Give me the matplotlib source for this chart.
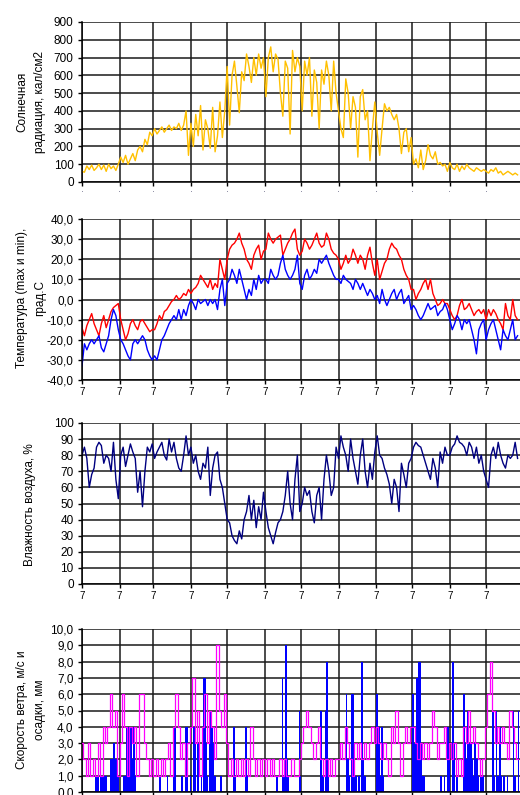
import numpy as np
import matplotlib
matplotlib.use("Agg")
from matplotlib import pyplot as plt
from matplotlib.ticker import FuncFormatter

plt.rcParams['font.family'] = ['Liberation Sans', 'DejaVu Sans']

# month boundaries (day of year)
month_start = [0, 31, 59, 90, 120, 151, 181, 212, 243, 273, 304, 334]

# values every 2 days, Jan..Dec
solar = [60, 55, 90, 70, 95, 65, 80, 100, 70, 95, 60, 100, 75, 90, 65, 100,
         140, 110, 150, 100, 130, 160, 120, 180, 200, 170, 240, 210, 280, 260,
         300, 270, 290, 310, 280, 300, 320, 290, 310, 300, 330, 290, 320, 400, 150,
         330, 200, 380, 260, 430, 180, 350, 300, 190, 420, 170, 260, 450, 250, 400,
         650, 320, 600, 680, 540, 390, 620, 570, 720, 650, 560, 700, 600, 720, 640, 700,
         480, 700, 760, 620, 720, 690, 500, 370, 680, 640, 270, 740, 620, 700, 650,
         400, 680, 600, 700, 370, 630, 560, 300, 630, 550, 680, 600, 400, 680, 500,
         400, 300, 250, 580, 500, 300, 480, 420, 140, 480, 520, 350, 400, 120, 300, 450,
         280, 150, 300, 440, 400, 420, 380, 350, 380, 300, 160, 280, 300, 170, 250,
         100, 130, 80, 180, 70, 120, 210, 150, 130, 170, 100, 110, 90, 100, 60,
         110, 80, 70, 100, 60, 90, 70, 100, 80, 70, 60, 80, 70, 60, 70,
         60, 50, 70, 60, 80, 50, 60, 40, 50, 60, 50, 40, 50, 40]

t_max = [-14, -18, -13, -10, -7, -12, -15, -18, -12, -8, -14, -10, -6, -4, -3, -2,
         -10, -15, -20, -17, -12, -10, -13, -15, -11, -10, -12, -14, -16, -15,
         -15, -12, -8, -10, -6, -5, -3, -1, 0, 2, 0, 1, 3, 2, 5,
         3, 5, 6, 8, 12, 10, 8, 6, 10, 5, 8, 6, 20, 15, 10,
         20, 25, 27, 28, 30, 33, 28, 25, 20, 18, 15, 22, 25, 27, 20, 24,
         25, 33, 30, 28, 30, 31, 32, 22, 25, 28, 30, 33, 35, 25, 22,
         24, 30, 28, 25, 27, 30, 33, 28, 26, 27, 33, 30, 25, 23, 22,
         20, 15, 18, 22, 18, 20, 25, 22, 18, 22, 20, 15, 22, 26, 18, 12,
         20, 10, 14, 18, 20, 25, 28, 26, 25, 22, 20, 15, 12, 10, 5,
         5, 0, 3, 5, 8, 10, 5, 10, 3, 0, -3, -2, 0, -2, -2,
         -5, -8, -10, -8, -3, 0, -5, -4, -2, -5, -8, -6, -5, -7, -5,
         -10, -5, -8, -5, -7, -10, -12, -15, -2, -8, -10, 0, -8, -10]

t_min = [-33, -22, -25, -22, -20, -22, -20, -18, -24, -26, -22, -18, -10, -5, -8, -15,
         -20, -22, -25, -28, -30, -22, -20, -22, -20, -18, -20, -25, -28, -30,
         -28, -30, -25, -20, -18, -15, -12, -10, -8, -10, -5, -10, -5, -8, -3,
         0, -2, -5, 0, -2, -1, 0, -3, 0, -2, 0, -5, 5, 10, -3,
         8, 10, 15, 12, 8, 15, 10, 5, 0, 5, 2, 10, 5, 12, 8, 10,
         10, 8, 15, 12, 10, 12, 18, 22, 15, 12, 10, 12, 15, 22, 8,
         5, 12, 15, 10, 12, 15, 13, 20, 18, 20, 22, 18, 15, 12, 10,
         10, 8, 12, 10, 9, 8, 5, 10, 8, 5, 8, 5, 2, 5, 3, 0,
         2, -2, 5, 0, -3, 0, 3, 5, 0, 3, 5, -2, 0, 2, -5,
         -3, -5, -8, -10, -8, -5, -2, -5, -4, -3, -8, -6, -5, -2, -5,
         -10, -15, -12, -8, -10, -15, -10, -12, -10, -15, -20, -27, -15, -12, -10,
         -20, -15, -12, -10, -15, -20, -25, -15, -18, -20, -15, -10, -20, -18]

humidity = [80, 85, 78, 60, 68, 72, 85, 88, 86, 75, 80, 78, 70, 88, 65, 53,
            80, 85, 73, 80, 87, 82, 78, 57, 70, 48, 70, 85, 82, 87,
            78, 82, 85, 88, 80, 77, 90, 82, 88, 78, 72, 70, 80, 92, 80,
            85, 75, 80, 70, 65, 75, 72, 85, 55, 72, 80, 82, 65, 60, 50,
            40, 38, 30, 27, 25, 33, 28, 40, 45, 55, 40, 52, 35, 48, 40, 57,
            45, 35, 30, 25, 32, 38, 40, 45, 55, 70, 50, 40, 65, 80, 45,
            50, 60, 55, 58, 45, 38, 55, 60, 40, 65, 80, 70, 55, 60, 85,
            78, 92, 85, 80, 70, 90, 78, 70, 62, 80, 90, 70, 60, 75, 65, 82,
            92, 80, 78, 72, 68, 62, 50, 65, 60, 45, 75, 68, 60, 75, 78,
            85, 88, 86, 85, 80, 75, 70, 65, 78, 72, 60, 82, 75, 85, 80,
            80, 85, 87, 92, 88, 87, 85, 80, 88, 85, 78, 85, 75, 80, 70,
            65, 60, 80, 85, 78, 88, 80, 75, 72, 80, 78, 80, 88, 78]

wind = [3, 2, 1, 3, 1, 2, 1, 3, 1, 4, 3, 4, 6, 4, 5, 1,
        3, 6, 4, 1, 4, 3, 4, 1, 6, 6, 3, 2, 1, 2,
        1, 2, 1, 2, 1, 2, 3, 1, 4, 6, 4, 2, 3, 1, 3,
        4, 7, 3, 5, 1, 4, 6, 3, 5, 4, 2, 9, 5, 4, 6,
        3, 1, 2, 1, 2, 1, 2, 1, 2, 1, 4, 2, 1, 2, 1, 2,
        1, 2, 1, 2, 1, 1, 2, 1, 2, 1, 1, 2, 1, 1, 2,
        3, 4, 5, 4, 3, 2, 3, 4, 2, 1, 2, 1, 2, 1, 2,
        2, 3, 2, 4, 3, 2, 1, 3, 2, 3, 2, 3, 2, 3, 4, 3,
        4, 3, 2, 3, 2, 1, 4, 3, 5, 3, 1, 3, 4, 3, 4,
        4, 3, 2, 3, 2, 3, 2, 3, 5, 4, 2, 3, 3, 4, 2,
        3, 2, 3, 1, 2, 1, 4, 3, 5, 3, 4, 3, 2, 1, 2,
        4, 6, 8, 5, 3, 4, 3, 4, 3, 2, 5, 4, 3, 2]

# daily precipitation, only rainy days
precip_day = [11, 12, 13, 15, 16, 17, 18, 19,
              23, 24, 25, 26, 27, 28, 29,
              34, 35, 36, 37, 38, 39, 40, 41, 42, 43,
              64, 70, 75, 76, 82, 85, 86, 89,
              92, 93, 95, 98, 100, 101, 102, 103, 105, 106, 107, 108, 109, 114,
              125, 126, 135, 136,
              160, 161, 165, 166, 168, 169, 170, 179, 180,
              197, 198, 199, 201, 202, 203,
              218, 219, 220, 222, 223, 224, 226, 228, 231, 232, 233,
              243, 244, 245, 246, 247, 248,
              273, 274, 275, 276, 277, 278, 279, 280, 281, 282,
              296, 299, 302, 303, 306, 307, 309,
              315, 316, 317, 318, 319, 320, 321, 322, 323, 324, 325, 326, 327, 329, 331,
              339, 340, 342, 343, 345, 346, 348, 351, 356, 357, 360]
precip_mm = [1, 1, 1, 1, 1, 1, 1, 1,
             2, 2, 2, 3, 2, 2, 1,
             1, 1, 4, 4, 4, 1, 4, 2, 4, 1,
             1, 1, 4, 4, 1, 4, 4, 1,
             4, 3, 3, 1, 7, 7, 3, 1, 5, 5, 4, 3, 1, 1,
             4, 1, 4, 1,
             1, 1, 7, 1, 9, 2, 1, 5, 1,
             5, 1, 1, 5, 8, 1,
             6, 2, 1, 6, 6, 2, 1, 1, 8, 2, 1,
             6, 4, 4, 1, 4, 1,
             6, 3, 3, 7, 3, 8, 8, 3, 1, 1,
             1, 1, 4, 3, 8, 3, 1,
             6, 3, 2, 5, 3, 2, 3, 2, 1, 3, 1, 2, 1, 1, 1,
             5, 1, 5, 1, 4, 1, 1, 1, 5, 1, 5]


def comma(v, pos):
    return ('%.1f' % v).replace('.', ',')


W, H = 520, 795
fig = plt.figure(figsize=(W / 100, H / 100), dpi=100)

def make_ax(top, bottom):
    ax = fig.add_axes([82 / W, 1 - bottom / H, 1 - 82 / W, (bottom - top) / H])
    ax.set_xlim(0, 362)
    ax.set_xticks(month_start)
    ax.grid(True, color='#1a1a1a', lw=1.1)
    ax.set_axisbelow(True)
    for s in ['top', 'right']:
        ax.spines[s].set_visible(False)
    ax.spines['left'].set_linewidth(1.1)
    ax.spines['bottom'].set_linewidth(1.1)
    ax.tick_params(axis='y', labelsize=8.5, length=3, width=1, pad=3)
    ax.tick_params(axis='x', length=3, width=1, pad=2)
    return ax

d2 = np.arange(len(solar)) * 2

ax1 = make_ax(22, 182)
ax1.plot(d2, solar, color='#FFC000', lw=1)
ax1.set_ylim(0, 900)
ax1.set_yticks(range(0, 901, 100))
ax1.set_xticklabels(['·'] * len(month_start), fontsize=6, color='#555577')

ax2 = make_ax(219, 380)
ax2.plot(np.arange(len(t_max)) * 2, t_max, color='#FF0000', lw=1)
ax2.plot(np.arange(len(t_min)) * 2, t_min, color='#0000FF', lw=1)
ax2.set_ylim(-40, 40)
ax2.set_yticks(range(-40, 41, 10))
ax2.yaxis.set_major_formatter(FuncFormatter(comma))
ax2.set_xticklabels(['7'] * len(month_start), fontsize=7)

ax3 = make_ax(423, 584)
ax3.plot(np.arange(len(humidity)) * 2, humidity, color='#000080', lw=1)
ax3.set_ylim(0, 100)
ax3.set_yticks(range(0, 101, 10))
ax3.set_xticklabels(['7'] * len(month_start), fontsize=7)

ax4 = make_ax(629, 792)
ax4.bar(precip_day, precip_mm, width=1.4, color='#0000FF', align='edge', zorder=2)
ax4.plot(np.arange(len(wind)) * 2, wind, color='#FF00FF', lw=0.9, drawstyle='steps-mid', zorder=3)
ax4.set_ylim(0, 10)
ax4.set_yticks(range(0, 11))
ax4.yaxis.set_major_formatter(FuncFormatter(comma))
ax4.set_xticklabels([])

lab = dict(rotation=90, ha='center', va='center', fontsize=8.5)
fig.text(22 / W, 1 - 102 / H, 'Солнечная', **lab)
fig.text(40 / W, 1 - 102 / H, 'радиация, кал/см2', **lab)
fig.text(22 / W, 1 - 298 / H, 'Температура (max и min),', **lab)
fig.text(40 / W, 1 - 298 / H, 'град.С', **lab)
fig.text(30 / W, 1 - 505 / H, 'Влажность воздуха, %', **lab)
fig.text(22 / W, 1 - 710 / H, 'Скорость ветра, м/с и', **lab)
fig.text(40 / W, 1 - 710 / H, 'осадки, мм', **lab)

fig.savefig('out.png', dpi=100)
